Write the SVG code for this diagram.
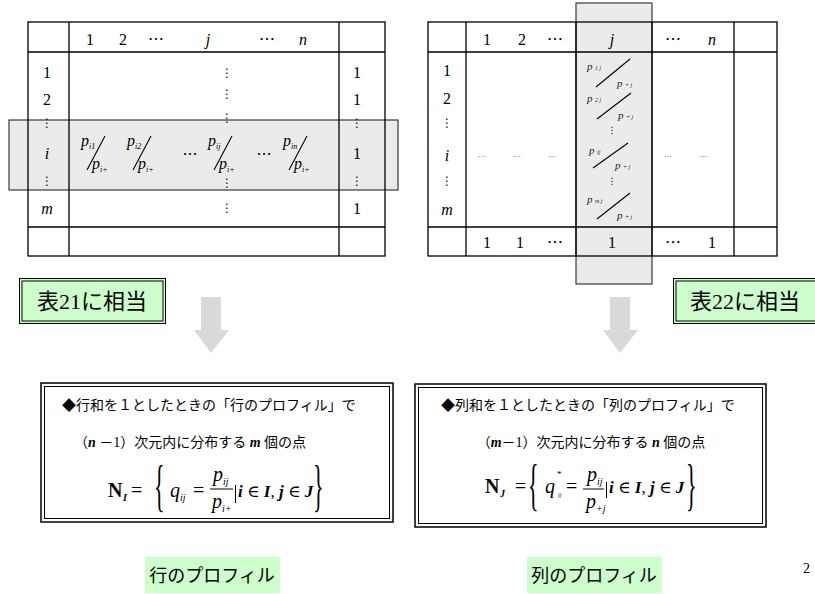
<svg xmlns="http://www.w3.org/2000/svg" width="815" height="594" viewBox="0 0 815 594">
<style>
.t{font-family:"Liberation Serif","Noto Sans CJK JP",serif;fill:#000}
.c{text-anchor:middle}
.n{font-size:16px}
.it{font-style:italic}
.dv{font-family:"DejaVu Sans",sans-serif;font-size:12px;text-anchor:middle;fill:#000}
.ln{stroke:#000;stroke-width:1.3;fill:none}
.hl{fill:#ebebeb;stroke:#3a3a3a;stroke-width:1.2}
.sl{stroke:#000;stroke-width:1.1}
.fp{font-family:"Liberation Serif",serif;font-style:italic;font-size:16px}
.fs{font-family:"Liberation Serif",serif;font-style:italic;font-size:8px}
.rp{font-family:"Liberation Serif",serif;font-style:italic;font-size:11px;fill:#222}
.rs{font-family:"Liberation Serif",serif;font-style:italic;font-size:6px;fill:#222}
.gd{font-family:"DejaVu Sans",sans-serif;font-size:8px;fill:#777;text-anchor:middle}
.lab{fill:#ccffcc;stroke:#000;stroke-width:1}
.labi{fill:none;stroke:#000;stroke-width:1}
.g{font-family:"Noto Sans CJK JP","Noto Sans CJK SC",sans-serif}
.m{font-family:"Liberation Serif","Noto Sans CJK JP",serif;font-size:14px}
.f{font-family:"Liberation Serif",serif;font-size:20px}
.fb{font-weight:bold}
.el{font-family:"Liberation Serif","DejaVu Serif",serif;font-size:17px}
.bi{font-weight:bold;font-style:italic}
.arrow{fill:#d9d9d9}
</style>

<g id="table-left">
  <rect class="hl" x="9" y="120" width="389" height="70"/>
  <rect class="ln" x="28" y="22" width="357" height="234"/>
  <line class="ln" x1="69" y1="22" x2="69" y2="256"/>
  <line class="ln" x1="339" y1="22" x2="339" y2="256"/>
  <line class="ln" x1="28" y1="52" x2="385" y2="52"/>
  <line class="ln" x1="28" y1="227" x2="385" y2="227"/>
  <g class="t n c">
    <text x="90" y="45">1</text>
    <text x="123" y="45">2</text>
    <text x="156" y="45">⋯</text>
    <text x="208" y="45" class="it">j</text>
    <text x="267" y="45">⋯</text>
    <text x="303" y="45" class="it">n</text>
    <text x="47" y="78">1</text>
    <text x="47" y="105">2</text>
    <text x="47" y="159" class="it">i</text>
    <text x="47" y="214" class="it">m</text>
    <text x="357" y="78">1</text>
    <text x="357" y="105">1</text>
    <text x="357" y="159">1</text>
    <text x="357" y="214">1</text>
  </g>
  <g class="dv">
    <text x="47" y="127">⋮</text>
    <text x="47" y="185">⋮</text>
    <text x="357" y="127">⋮</text>
    <text x="357" y="185">⋮</text>
    <text x="227" y="77">⋮</text>
    <text x="227" y="98">⋮</text>
    <text x="227" y="122">⋮</text>
    <text x="227" y="187">⋮</text>
    <text x="227" y="212">⋮</text>
  </g>
  <g>
    <text class="fp" x="81" y="146">p</text><text class="fs" x="89" y="149">i1</text>
    <line class="sl" x1="87" y1="170" x2="105" y2="136"/>
    <text class="fp" x="92" y="169">p</text><text class="fs" x="100" y="172">i+</text>
    <text class="fp" x="127" y="146">p</text><text class="fs" x="135" y="149">i2</text>
    <line class="sl" x1="133" y1="170" x2="151" y2="136"/>
    <text class="fp" x="138" y="169">p</text><text class="fs" x="146" y="172">i+</text>
    <text class="t c" x="190" y="160" style="font-size:15px">⋯</text>
    <text class="fp" x="208" y="146">p</text><text class="fs" x="216" y="149">ij</text>
    <line class="sl" x1="214" y1="170" x2="232" y2="136"/>
    <text class="fp" x="219" y="169">p</text><text class="fs" x="227" y="172">i+</text>
    <text class="t c" x="264" y="160" style="font-size:15px">⋯</text>
    <text class="fp" x="283" y="146">p</text><text class="fs" x="291" y="149">in</text>
    <line class="sl" x1="289" y1="170" x2="307" y2="136"/>
    <text class="fp" x="294" y="169">p</text><text class="fs" x="302" y="172">i+</text>
  </g>
</g>

<g id="table-right">
  <rect class="hl" x="576" y="3" width="76" height="281"/>
  <rect class="ln" x="428" y="22" width="349" height="234"/>
  <line class="ln" x1="466" y1="22" x2="466" y2="256"/>
  <line class="ln" x1="576" y1="22" x2="576" y2="256"/>
  <line class="ln" x1="652" y1="22" x2="652" y2="256"/>
  <line class="ln" x1="734" y1="22" x2="734" y2="256"/>
  <line class="ln" x1="428" y1="52" x2="777" y2="52"/>
  <line class="ln" x1="428" y1="227" x2="777" y2="227"/>
  <g class="t n c">
    <text x="487" y="45">1</text>
    <text x="522" y="45">2</text>
    <text x="555" y="45">⋯</text>
    <text x="612" y="45" class="it">j</text>
    <text x="673" y="45">⋯</text>
    <text x="712" y="45" class="it">n</text>
    <text x="447" y="76">1</text>
    <text x="447" y="104">2</text>
    <text x="447" y="161" class="it">i</text>
    <text x="447" y="215" class="it">m</text>
    <text x="487" y="248">1</text>
    <text x="520" y="248">1</text>
    <text x="555" y="248">⋯</text>
    <text x="612" y="248">1</text>
    <text x="673" y="248">⋯</text>
    <text x="712" y="248">1</text>
  </g>
  <g class="dv">
    <text x="447" y="127">⋮</text>
    <text x="447" y="185">⋮</text>
  </g>
  <g class="gd">
    <text x="482" y="157">…</text>
    <text x="517" y="157">…</text>
    <text x="552" y="157">…</text>
    <text x="668" y="157">…</text>
    <text x="703" y="157">…</text>
  </g>
  <g>
    <text class="rp" x="587" y="70">p</text><text class="rs" x="595" y="70">1 j</text>
    <line class="sl" x1="596" y1="87" x2="630" y2="59"/>
    <text class="rp" x="617" y="87">p</text><text class="rs" x="625" y="87">+ j</text>
    <text class="rp" x="587" y="102">p</text><text class="rs" x="595" y="102">2 j</text>
    <line class="sl" x1="597" y1="119" x2="631" y2="93"/>
    <text class="rp" x="618" y="119">p</text><text class="rs" x="626" y="119">+ j</text>
    <text class="dv" x="612" y="133" style="font-size:9px">⋮</text>
    <text class="rp" x="589" y="154">p</text><text class="rs" x="597" y="154">ij</text>
    <line class="sl" x1="593" y1="168" x2="628" y2="143"/>
    <text class="rp" x="615" y="169">p</text><text class="rs" x="623" y="169">+ j</text>
    <text class="dv" x="612" y="184" style="font-size:9px">⋮</text>
    <text class="rp" x="587" y="203">p</text><text class="rs" x="595" y="203">m j</text>
    <line class="sl" x1="597" y1="219" x2="630" y2="193"/>
    <text class="rp" x="617" y="219">p</text><text class="rs" x="625" y="219">+ j</text>
  </g>
</g>

<g id="label-21">
  <rect class="lab" x="19.5" y="278.5" width="146" height="45"/>
  <rect class="labi" x="22" y="281" width="141" height="40"/>
  <text x="92" y="309" class="c" style="font-size:22px"><tspan class="g">表</tspan><tspan font-family="Liberation Serif,serif">21</tspan><tspan class="g">に相当</tspan></text>
</g>

<g id="label-22">
  <rect class="lab" x="673.5" y="278.5" width="146" height="45"/>
  <rect class="labi" x="676" y="281" width="141" height="40"/>
  <text x="745" y="309" class="c" style="font-size:22px"><tspan class="g">表</tspan><tspan font-family="Liberation Serif,serif">22</tspan><tspan class="g">に相当</tspan></text>
</g>

<g id="connectors">
  <polygon class="arrow" points="201,297 221,297 221,330 229,330 211,353 194,330 201,330"/>
  <polygon class="arrow" points="610,297 630,297 630,330 638,330 620,353 603,330 610,330"/>
</g>

<g id="box-row">
  <rect x="41" y="383" width="352" height="139" fill="#fff" stroke="#000" stroke-width="1.5"/>
  <rect x="44.5" y="386.5" width="345" height="132" fill="none" stroke="#000" stroke-width="1"/>
  <text class="m" x="62" y="410">◆行和を１としたときの「行のプロフィル」で</text>
  <text class="m c" x="190" y="447">（<tspan font-style="italic" font-weight="bold">n</tspan> －1）次元内に分布する <tspan font-style="italic" font-weight="bold">m</tspan> 個の点</text>
  <text class="f fb" x="108" y="497">N</text>
  <text class="f fb" x="123" y="501" style="font-size:10px;font-style:italic">I</text>
  <text class="f" x="131" y="497">=</text>
  <text class="f" transform="translate(154,505) scale(1,2.6)" style="font-size:22px">{</text>
  <text class="f it" x="170" y="497">q</text>
  <text class="f it" x="180" y="501" style="font-size:10px">ij</text>
  <text class="f" x="193" y="497">=</text>
  <text class="f it" x="213" y="481">p</text>
  <text class="f it" x="223" y="485" style="font-size:10px">ij</text>
  <line x1="210" y1="489" x2="233" y2="489" stroke="#000" stroke-width="1"/>
  <text class="f it" x="212" y="508">p</text>
  <text class="f it" x="222" y="512" style="font-size:10px">i+</text>
  <line x1="235.5" y1="485" x2="235.5" y2="503" stroke="#000" stroke-width="1"/>
  <text class="el" x="238" y="497"><tspan class="bi">i</tspan> ∈ <tspan class="bi">I</tspan>, <tspan class="bi">j</tspan> ∈ <tspan class="bi">J</tspan></text>
  <text class="f" transform="translate(313,505) scale(1,2.6)" style="font-size:22px">}</text>
</g>

<g id="box-col">
  <rect x="415" y="384" width="351" height="143" fill="#fff" stroke="#000" stroke-width="1.5"/>
  <rect x="418.5" y="387.5" width="344" height="136" fill="none" stroke="#000" stroke-width="1"/>
  <text class="m" x="441" y="410">◆列和を１としたときの「列のプロフィル」で</text>
  <text class="m c" x="591" y="447">（<tspan font-style="italic" font-weight="bold">m</tspan>－1）次元内に分布する <tspan font-style="italic" font-weight="bold">n</tspan> 個の点</text>
  <text class="f fb" x="485" y="493">N</text>
  <text class="f fb" x="500" y="497" style="font-size:10px;font-style:italic">J</text>
  <text class="f" x="515" y="493">=</text>
  <text class="f" transform="translate(528,504) scale(1,2.6)" style="font-size:22px">{</text>
  <text class="f it" x="545" y="493">q</text>
  <text class="f" x="557" y="477" style="font-size:9px">*</text>
  <text class="f it" x="558" y="497" style="font-size:6px">ij</text>
  <text class="f" x="566" y="493">=</text>
  <text class="f it" x="587" y="481">p</text>
  <text class="f it" x="597" y="485" style="font-size:10px">ij</text>
  <line x1="583" y1="489" x2="604" y2="489" stroke="#000" stroke-width="1"/>
  <text class="f it" x="586" y="508">p</text>
  <text class="f it" x="596" y="512" style="font-size:10px">+j</text>
  <line x1="606.5" y1="482" x2="606.5" y2="498" stroke="#000" stroke-width="1"/>
  <text class="el" x="609" y="493"><tspan class="bi">i</tspan> ∈ <tspan class="bi">I</tspan>, <tspan class="bi">j</tspan> ∈ <tspan class="bi">J</tspan></text>
  <text class="f" transform="translate(686,504) scale(1,2.6)" style="font-size:22px">}</text>
</g>

<g id="label-row-profile">
  <rect x="145" y="557" width="135" height="36" fill="#ccffcc"/>
  <text class="g c" x="212" y="582" style="font-size:18px">行のプロフィル</text>
</g>
<g id="label-col-profile">
  <rect x="527" y="557" width="135" height="36" fill="#ccffcc"/>
  <text class="g c" x="594" y="582" style="font-size:18px">列のプロフィル</text>
</g>
<text class="t" x="803" y="573" style="font-size:14px">2</text>
</svg>
